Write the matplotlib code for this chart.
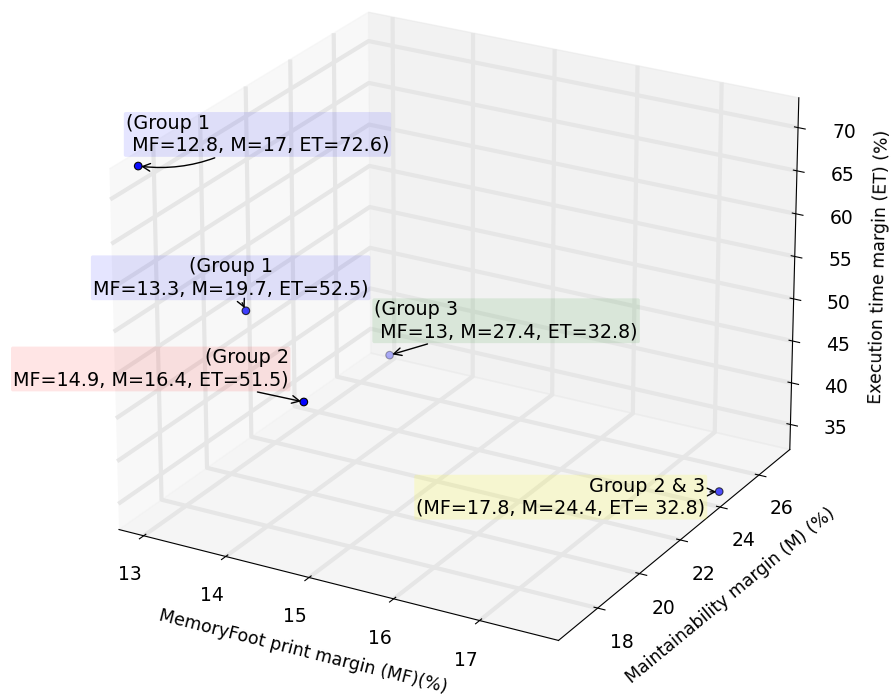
import matplotlib
matplotlib.use('Agg')
import matplotlib.pyplot as plt
from mpl_toolkits.mplot3d import proj3d

plt.rcParams['axes3d.automargin'] = True

# data points (memory footprint, maintainability, execution time margins)
mf = [12.8, 13.3, 14.9, 13.0, 17.8]
m = [17.0, 19.7, 16.4, 27.4, 24.4]
et = [72.6, 52.5, 51.5, 32.8, 32.8]

labels = ['(Group 1\n MF=12.8, M=17, ET=72.6)',
          '(Group 1\nMF=13.3, M=19.7, ET=52.5)',
          '(Group 2\nMF=14.9, M=16.4, ET=51.5)',
          '(Group 3\n MF=13, M=27.4, ET=32.8)',
          'Group 2 & 3\n(MF=17.8, M=24.4, ET= 32.8)']
box_colors = ['blue', 'blue', 'red', 'green', 'yellow']
offsets = [(-9, 8), (-11, 9), (-11, 9), (-11, 10), (-10, -4)]
aligns = [('left', 'bottom'), ('center', 'bottom'), ('right', 'bottom'),
          ('left', 'bottom'), ('right', 'center')]
curves = [-0.2, 0, 0, 0, 0]

FS = 13.5

fig = plt.figure(figsize=(8.93, 6.97), dpi=100)
ax = fig.add_axes([0.004, 0.037, 1, 1], projection='3d')
ax.view_init(elev=23.5, azim=-60.6)
ax.set_proj_type('persp', focal_length=1.5)
ax.set_box_aspect((1, 1, 0.778), zoom=1.122)

ax.scatter(mf, m, et, c='b', s=30, edgecolors='k', linewidths=0.8)

for axis in (ax.xaxis, ax.yaxis, ax.zaxis):
    axis._axinfo['grid']['linewidth'] = 3.0
    axis._axinfo['grid']['color'] = (0.9, 0.9, 0.9, 1)

ax.set_xlim(min(mf), max(mf))
ax.set_ylim(min(m), max(m))
ax.set_zlim(min(et), max(et))
ax.set_xticks([13, 14, 15, 16, 17])
ax.set_yticks([18, 20, 22, 24, 26])
ax.set_zticks([35, 40, 45, 50, 55, 60, 65, 70])
ax.tick_params(labelsize=FS)
ax.tick_params(axis='x', pad=6)
ax.tick_params(axis='y', pad=6)
ax.tick_params(axis='z', pad=10)

ax.set_xlabel('MemoryFoot print margin (MF)(%)', fontsize=12.5, labelpad=11)
ax.set_ylabel('Maintainability margin (M) (%)', fontsize=12.5, labelpad=10)
ax.set_zlabel('Execution time margin (ET) (%)', fontsize=12.5, labelpad=13)

fig.canvas.draw()
for i in range(len(mf)):
    x2, y2, _ = proj3d.proj_transform(mf[i], m[i], et[i], ax.get_proj())
    ax.annotate(labels[i], xy=(x2, y2), xytext=offsets[i],
                textcoords='offset points', ha=aligns[i][0], va=aligns[i][1],
                multialignment=aligns[i][0], fontsize=13.8,
                bbox=dict(boxstyle='round,pad=0.1', fc=box_colors[i],
                          ec='none', alpha=0.1 if box_colors[i] != 'yellow' else 0.15),
                arrowprops=dict(arrowstyle='->',
                                connectionstyle='arc3,rad=%s' % curves[i]))

fig.savefig('out.png', dpi=100)
